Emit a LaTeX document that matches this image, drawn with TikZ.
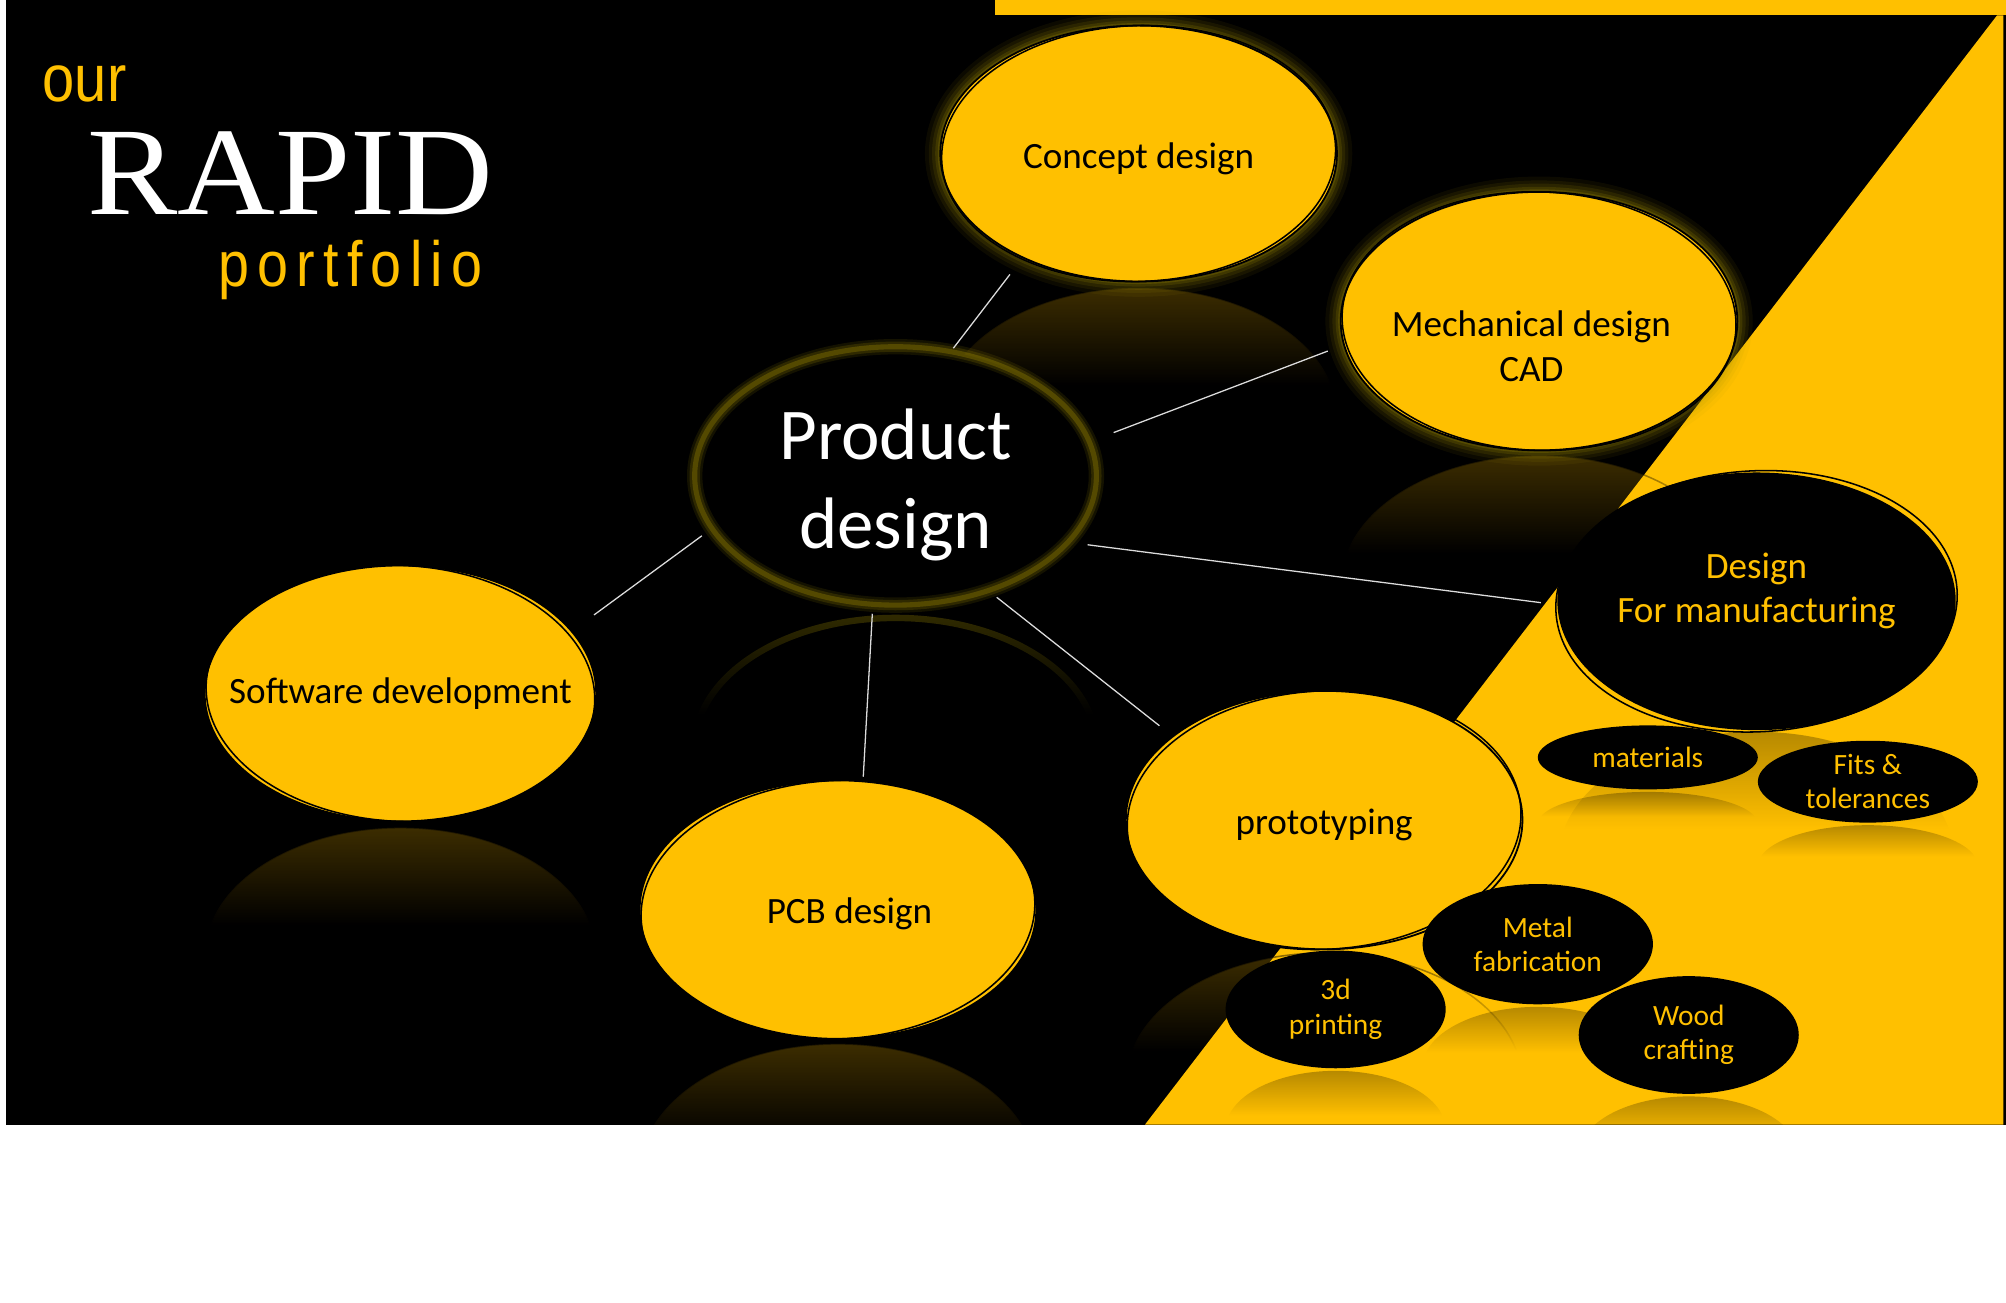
\documentclass[tikz,border=0pt]{standalone}
\usepackage{fontspec}
\setmainfont{Carlito}
\newfontfamily\titlesans[FakeStretch=0.87]{Liberation Sans}
\newfontfamily\titlesansls[FakeStretch=0.87,LetterSpace=13]{Liberation Sans}
\newfontfamily\titleserif[FakeStretch=1.08]{Liberation Serif}
\usetikzlibrary{fadings,shapes.geometric}
\definecolor{gold}{HTML}{FFC000}
\definecolor{glowc}{RGB}{170,150,0}
\definecolor{connc}{RGB}{220,220,220}
\pgfdeclareverticalshading{reflsh}{100bp}{color(0bp)=(black); color(56bp)=(black); color(86bp)=(black!25!white); color(100bp)=(white)}
\pgfdeclarefading{reflfade}{\pgfuseshading{reflsh}}
\tikzset{
  bignode/.style={ellipse, inner xsep=-40pt, inner ysep=-6pt, align=center, font=\fontsize{14.5}{17.5}\selectfont},
  yellownode/.style={bignode, fill=gold, draw=black, line width=0.7pt, text=black},
  blacknode/.style={bignode, fill=black, draw=black, line width=0.7pt, text=gold},
  smallnode/.style={ellipse, inner xsep=-40pt, inner ysep=-6pt, align=center, fill=black, text=gold, font=\fontsize{11.5}{13.5}\selectfont},
  sketch/.style={draw=black, line width=0.6pt},
  reflY/.style={fill=gold, fill opacity=0.5, draw=black, line width=0.6pt, path fading=reflfade},
  reflB/.style={fill=black, fill opacity=0.6, path fading=reflfade},
  conn/.style={draw=connc, line width=0.5pt},
}
\newcommand{\glowring}[3]{%
  \foreach \w/\o in {12/0.07, 9/0.09, 6.5/0.12, 4/0.16, 2/0.22}{\draw[glowc, line width={\w pt}, draw opacity=\o] (#1) ellipse (#2 and #3);}}
\newcommand{\thinglow}[3]{%
  \foreach \w/\o in {6/0.12, 4/0.18, 2/0.3}{\draw[glowc, line width={\w pt}, draw opacity=\o] (#1) ellipse (#2 and #3);}}
\begin{document}
\begin{tikzpicture}[x=0.5pt, y=-0.5pt]
\useasboundingbox (0,0) rectangle (1568,1018);
\fill[white] (0,0) rectangle (1568,1018);
\fill[black] (5,0) rectangle (1568,879);
\fill[gold] (778,0) rectangle (1568,12);
\fill[gold] (1561,12) -- (1566,12) -- (1566,879) -- (895,879) -- cycle;

% centres
\coordinate (cConcept) at (890,120);
\coordinate (cMech) at (1203,251);
\coordinate (cProd) at (700,372);
\coordinate (cDfm) at (1373,470);
\coordinate (cSoft) at (313,542);
\coordinate (cPcb) at (655,711);
\coordinate (cProto) at (1035,641);

% reflections
\begin{scope}
\clip (5,0) rectangle (1568,879);
\path[reflY] (890,325) ellipse (155 and 100);
\path[reflY] (1203,457) ellipse (155 and 101);
\path[reflY] (313,747) ellipse (153 and 100);
\path[reflY] (655,917) ellipse (155 and 101);
\path[reflY] (1035,846) ellipse (155 and 101);
\draw[glowc, line width=2.5pt, draw opacity=0.6, path fading=reflfade] (700,584) ellipse (157 and 101);
\path[reflB] (1373,672) ellipse (155 and 100);
\path[reflB] (1288,644) ellipse (86 and 25);
\path[reflB] (1460,677) ellipse (86 and 32);
\path[reflB] (1202,834) ellipse (90 and 47);
\path[reflB] (1044,883) ellipse (86 and 46);
\path[reflB] (1320,903) ellipse (86 and 46);
\end{scope}

% glows
\glowring{cConcept}{155}{100}
\glowring{cMech}{155}{101}

% main nodes
\node[yellownode, minimum width=155pt, minimum height=100pt] (concept) at (cConcept) {\rule{0pt}{14pt}Concept design};
\draw[sketch, rotate around={2:(cConcept)}] (cConcept) ellipse (154 and 100);
\node[yellownode, minimum width=155pt, minimum height=101pt] (mech) at (cMech) {\rule{0pt}{30pt}Mechanical design\hspace*{6pt}\\CAD\hspace*{6pt}};
\draw[sketch, rotate around={-2:(cMech)}] (cMech) ellipse (154 and 101);
\node[yellownode, minimum width=153pt, minimum height=100pt] (soft) at (cSoft) {Software development};
\draw[sketch, rotate around={-3:(cSoft)}] (cSoft) ellipse (152 and 100);
\node[yellownode, minimum width=155pt, minimum height=101pt] (pcb) at (cPcb) {\hspace*{9pt}\rule{0pt}{13pt}PCB design};
\draw[sketch, rotate around={3:(cPcb)}] (cPcb) ellipse (154 and 101);
\node[ellipse, fill=black, inner xsep=-40pt, inner ysep=-6pt, align=center, text=white, font=\fontsize{28.5}{35}\selectfont, minimum width=157pt, minimum height=101pt] (prod) at (cProd) {\rule{0pt}{27pt}Product\\design};
\thinglow{cProd}{157}{101}
\node[yellownode, minimum width=155pt, minimum height=101pt] (proto) at (cProto) {\rule{0pt}{14pt}prototyping};
\draw[sketch, rotate around={3:(cProto)}] (cProto) ellipse (154 and 101);
\node[blacknode, minimum width=155pt, minimum height=100pt] (dfm) at (cDfm) {Design\\For manufacturing\rule[-10.6pt]{0pt}{10.6pt}};
\draw[sketch, rotate around={3:(cDfm)}] (cDfm) ellipse (157 and 102);

% small nodes
\node[smallnode, minimum width=86pt, minimum height=25pt] (mat) at (1288,592) {materials};
\node[smallnode, minimum width=86pt, minimum height=32pt] (fits) at (1460,611) {Fits \&\\tolerances};
\node[smallnode, minimum width=90pt, minimum height=47pt] (metal) at (1202,738) {Metal\\fabrication};
\node[smallnode, minimum width=86pt, minimum height=46pt] (print) at (1044,789) {3d\\printing};
\node[smallnode, minimum width=86pt, minimum height=46pt] (wood) at (1320,809) {Wood\\crafting};

% connectors
\draw[conn, shorten <=1.5pt, shorten >=8pt] (prod.66) -- (concept.222);
\draw[conn, shorten <=10pt, shorten >=6.5pt] (prod.10) -- (mech.187);
\draw[conn, shorten <=7.5pt, shorten >=6.5pt] (prod.-21) -- (dfm.181);
\draw[conn, shorten <=4pt, shorten >=6.4pt] (prod.-51) -- (proto.151);
\draw[conn, shorten <=3.5pt, shorten >=1.5pt] (prod.-100) -- (pcb.79);
\draw[conn, shorten <=4.7pt, shorten >=10.5pt] (prod.196) -- (soft.20);

% title
\node[anchor=base west, inner sep=0pt, text=gold, font=\titlesans\fontsize{26}{26}\selectfont] (our) at (33,79) {our};
\node[anchor=base west, inner sep=0pt, text=white, font=\titleserif\fontsize{49}{49}\selectfont] (rapid) at (68,168) {RAPID};
\node[anchor=base west, inner sep=0pt, text=gold, font=\titlesansls\fontsize{25}{25}\selectfont] (portfolio) at (170,224) {portfolio};
\end{tikzpicture}
\end{document}
